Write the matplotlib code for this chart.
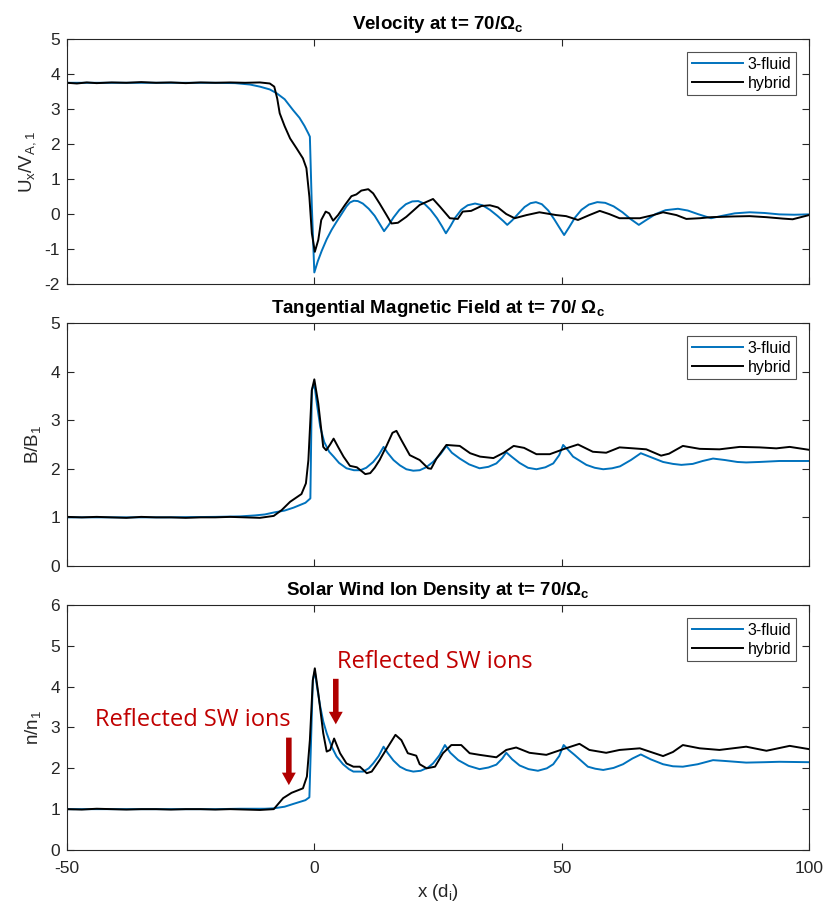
import matplotlib
matplotlib.use("Agg")
import matplotlib.pyplot as plt

plt.rcParams['font.family'] = ['Liberation Sans', 'DejaVu Sans']
plt.rcParams['mathtext.fontset'] = 'custom'
plt.rcParams['mathtext.rm'] = 'Liberation Sans'
plt.rcParams['mathtext.it'] = 'Liberation Sans'
plt.rcParams['mathtext.bf'] = 'Liberation Sans:bold'
plt.rcParams['axes.unicode_minus'] = False

# ---- Velocity U_x / V_A,1 ----
vel_fluid_x = [-50, -40, -30, -20, -16, -13, -11, -9, -7.6, -6, -4.3, -3, -2.0, -1.2, -0.9, -0.5, 0.0,
               0.7, 1.5, 2.5, 3.5, 4.5, 5.5, 6.5, 7.2, 8.0, 8.8, 9.8, 11, 12.2, 13.2, 14.1,
               15, 16, 17.2, 18.5, 19.8, 21, 22.2, 23.5, 24.8, 25.8, 26.6, 27.5, 28.5, 29.7,
               31, 32.5, 34, 35.5, 37, 38.2, 39.0, 40, 41.3, 42.5, 43.7, 44.8, 46, 47.3, 48.5,
               49.6, 50.5, 51.5, 52.7, 54, 55.5, 57.2, 58.8, 60.5, 62.3, 64, 65.6, 67, 69, 71,
               73.5, 75.5, 77.5, 80.2, 82.5, 85, 88, 91, 94, 97, 100]
vel_fluid_y = [3.75, 3.75, 3.75, 3.75, 3.74, 3.70, 3.64, 3.56, 3.45, 3.28, 2.97, 2.75, 2.52, 2.30, 2.21, 0.2, -1.67,
               -1.35, -1.05, -0.72, -0.45, -0.22, 0.0, 0.22, 0.33, 0.38, 0.37, 0.30, 0.15, -0.05, -0.28, -0.49,
               -0.32, -0.10, 0.12, 0.28, 0.36, 0.37, 0.30, 0.12, -0.12, -0.35, -0.55, -0.35, -0.10, 0.12,
               0.25, 0.30, 0.25, 0.12, -0.05, -0.20, -0.31, -0.18, 0.02, 0.20, 0.31, 0.34, 0.28, 0.10, -0.15,
               -0.40, -0.60, -0.38, -0.10, 0.12, 0.27, 0.34, 0.32, 0.22, 0.05, -0.15, -0.31, -0.18, 0.0, 0.11,
               0.15, 0.10, 0.0, -0.12, -0.05, 0.02, 0.05, 0.03, -0.01, -0.02, -0.01]

vel_hyb_x = [-50, -48, -46, -44, -41, -38, -35, -32, -29, -26, -23, -20, -17, -14, -11, -9.0,
             -8.1, -7.5, -7.0, -6.0, -4.9, -3.6, -2.3, -1.6, -1.0, -0.5, 0.1, 0.8, 1.4, 2.3, 3.0,
             3.8, 4.8, 6.2, 7.5, 8.5, 9.5, 10.9, 11.9, 13.2, 14.6, 15.6, 16.9, 18.6, 21.3, 24.0,
             25.4, 27.4, 29.0, 30.0, 31.7, 33.8, 35.5, 37.1, 38.8, 40.5, 42.9, 45.5, 48.9, 50.9,
             53.3, 55.6, 57.7, 59.6, 61.7, 65.8, 68.5, 70.5, 73.2, 75.2, 77.9, 80.2, 84.5, 88,
             91.4, 94.7, 96.7, 100]
vel_hyb_y = [3.75, 3.73, 3.76, 3.74, 3.76, 3.75, 3.77, 3.75, 3.76, 3.74, 3.76, 3.75, 3.76, 3.75, 3.76, 3.73,
             3.64, 3.30, 2.88, 2.51, 2.16, 1.88, 1.59, 1.31, 0.49, -0.55, -1.08, -0.74, -0.17, 0.07, 0.02,
             -0.19, -0.03, 0.26, 0.51, 0.56, 0.67, 0.71, 0.59, 0.30, -0.03, -0.27, -0.25, -0.08, 0.26, 0.43,
             0.21, -0.12, -0.14, 0.07, 0.09, 0.23, 0.25, 0.19, 0.0, -0.12, -0.03, 0.05, -0.03, -0.06,
             -0.17, -0.03, 0.09, 0.0, -0.12, -0.12, -0.03, 0.05, -0.03, -0.14, -0.12, -0.09, -0.07, -0.06,
             -0.09, -0.13, -0.15, -0.03]

# ---- Tangential magnetic field B / B_1 ----
b_fluid_x = [-50, -40, -30, -20, -15, -12, -10, -8.2, -6, -4.2, -1.8, -0.8, -0.5, 0.0, 0.5, 1.2, 2.0,
             3.0, 3.9, 5.0, 6.5, 8.0, 9.3, 10.5, 11.9, 13.0, 14.0, 14.8, 16.0, 17.3, 18.6, 20.0,
             21.3, 22.6, 24.0, 25.5, 26.7, 27.8, 29.4, 31.3, 33.4, 35.2, 36.8, 38.0, 38.8, 40.0,
             41.5, 43.2, 44.9, 46.7, 48.3, 49.5, 50.3, 51.3, 52.3, 55.0, 56.7, 58.4, 60.2, 61.8,
             64.0, 66.0, 68.0, 70.5, 72.5, 74.2, 76.5, 78.5, 80.6, 83.0, 85.5, 87.3, 90, 94, 100]
b_fluid_y = [1.00, 1.00, 1.00, 1.01, 1.02, 1.04, 1.06, 1.10, 1.14, 1.20, 1.30, 1.39, 3.62, 3.75, 3.35, 2.86, 2.55,
             2.35, 2.25, 2.12, 2.01, 1.97, 1.97, 2.02, 2.14, 2.28, 2.45, 2.33, 2.18, 2.07, 1.99, 1.96,
             1.97, 2.03, 2.14, 2.30, 2.47, 2.33, 2.21, 2.09, 2.01, 2.04, 2.11, 2.23, 2.34, 2.24,
             2.12, 2.02, 1.99, 2.03, 2.11, 2.28, 2.49, 2.38, 2.25, 2.08, 2.02, 1.99, 2.01, 2.05,
             2.18, 2.32, 2.24, 2.14, 2.10, 2.08, 2.10, 2.16, 2.21, 2.18, 2.14, 2.13, 2.14, 2.16, 2.16]

b_hyb_x = [-50, -47, -44, -41, -38, -35, -32, -29, -26, -23, -20, -17, -14, -11, -8.2, -6.6, -4.9,
           -2.6, -1.7, -1.2, -0.5, 0.0, 0.8, 1.8, 2.4, 3.2, 3.9, 4.8, 5.9, 7.2, 8.6, 10.3, 11.3, 12.2,
           13.2, 14.5, 15.8, 16.6, 17.6, 19.3, 21.3, 23.0, 23.6, 24.7, 26.7, 28.0, 29.4, 31.5,
           33.5, 36.2, 38.3, 40.3, 42.4, 44.9, 47.6, 50.3, 53.3, 56.3, 59.0, 61.7, 64.5, 67.1,
           70.1, 71.7, 74.5, 77.9, 81.9, 86.0, 90.0, 93.4, 96.1, 100]
b_hyb_y = [1.01, 1.00, 1.01, 1.00, 0.99, 1.01, 1.00, 1.00, 0.99, 1.00, 1.00, 1.01, 1.00, 0.99, 1.03, 1.15, 1.32,
           1.48, 1.70, 2.18, 3.62, 3.84, 3.34, 2.45, 2.38, 2.50, 2.62, 2.45, 2.25, 2.06, 2.03, 1.89, 1.91, 2.02,
           2.18, 2.45, 2.74, 2.78, 2.59, 2.28, 2.18, 2.01, 2.00, 2.21, 2.49, 2.48, 2.47, 2.32,
           2.25, 2.22, 2.33, 2.47, 2.43, 2.30, 2.30, 2.40, 2.50, 2.35, 2.33, 2.44, 2.42, 2.40,
           2.27, 2.31, 2.47, 2.41, 2.40, 2.45, 2.44, 2.42, 2.45, 2.39]

# ---- Solar wind ion density n / n_1 ----
n_fluid_x = [-50, -40, -30, -20, -15, -12, -10, -8.2, -6, -4.2, -1.8, -1.0, -0.3, 0.1, 0.6, 1.2, 1.8,
             2.5, 3.5, 4.5, 5.8, 7.0, 7.9, 9.9, 11.0, 11.9, 13.0, 14.0, 14.8, 16.0, 17.3, 18.6,
             20.0, 21.5, 23.0, 24.0, 25.3, 26.4, 27.5, 29.1, 31.2, 33.4, 35.2, 36.8, 38.0, 38.8,
             40.0, 41.5, 43.3, 45.2, 47.0, 48.3, 49.5, 50.4, 51.4, 52.6, 55.3, 56.8, 58.4, 60.5,
             62.4, 64.3, 66.0, 68.0, 70.5, 72.5, 74.5, 77.5, 80.6, 83.0, 87.3, 91, 94, 100]
n_fluid_y = [1.00, 1.00, 1.00, 1.00, 1.01, 1.01, 1.01, 1.02, 1.06, 1.13, 1.22, 1.29, 4.16, 4.37, 3.95, 3.51, 3.15,
             2.86, 2.53, 2.29, 2.10, 1.98, 1.92, 1.92, 2.00, 2.12, 2.30, 2.53, 2.38, 2.19, 2.04, 1.96,
             1.92, 1.94, 2.02, 2.12, 2.32, 2.57, 2.38, 2.20, 2.06, 1.98, 2.02, 2.09, 2.24, 2.38,
             2.22, 2.07, 1.98, 1.94, 2.00, 2.10, 2.30, 2.57, 2.45, 2.33, 2.04, 1.99, 1.96, 2.01,
             2.10, 2.24, 2.34, 2.22, 2.10, 2.05, 2.04, 2.10, 2.20, 2.18, 2.14, 2.15, 2.16, 2.15]

n_hyb_x = [-50, -47, -44, -41, -38, -35, -32, -29, -26, -23, -20, -17, -14, -11, -8.2, -6.3, -4.6,
           -2.3, -1.5, -0.9, -0.3, 0.1, 0.8, 1.8, 2.5, 3.2, 4.0, 5.2, 6.5, 7.9, 9.2, 10.6, 11.6,
           13.2, 14.9, 16.4, 17.6, 18.9, 20.6, 21.3, 22.7, 24.4, 26.0, 27.7, 29.7, 31.4, 33.4,
           36.8, 38.8, 40.8, 43.5, 46.9, 50.3, 53.6, 55.6, 59.0, 61.7, 65.8, 70.5, 72.5, 74.5,
           77.9, 81.9, 87.3, 91.4, 96.1, 100]
n_hyb_y = [1.00, 0.99, 1.01, 1.00, 0.99, 1.00, 1.00, 0.99, 1.00, 1.00, 0.99, 1.00, 0.99, 0.98, 1.00, 1.27, 1.40,
           1.51, 1.80, 2.69, 4.16, 4.45, 3.84, 2.86, 2.41, 2.45, 2.73, 2.37, 2.12, 2.04, 2.04, 1.88, 1.92,
           2.20, 2.53, 2.82, 2.69, 2.37, 2.31, 2.10, 2.00, 2.04, 2.37, 2.57, 2.57, 2.37, 2.33,
           2.27, 2.45, 2.51, 2.38, 2.33, 2.47, 2.60, 2.45, 2.38, 2.45, 2.49, 2.30, 2.40, 2.57,
           2.49, 2.45, 2.53, 2.43, 2.55, 2.47]

x_ticks = [-50, 0, 50, 100]
series_labels = ['3-fluid', 'hybrid']
fluid_color = '#0072BD'
hybrid_color = '#000000'
text_color = '#262626'
annot_color = '#C00000'

fig = plt.figure(figsize=(8.25, 9.08), dpi=100)
left, width = 0.0812, 0.8994
ax1 = fig.add_axes([left, 0.6872, width, 0.2698])
ax2 = fig.add_axes([left, 0.3767, width, 0.2676])
ax3 = fig.add_axes([left, 0.0639, width, 0.2698])

panels = [
    (ax1, vel_fluid_x, vel_fluid_y, vel_hyb_x, vel_hyb_y, (-2, 5),
     r'Velocity at t= 70/$\mathbf{\Omega_c}$', r'U$_\mathregular{x}$/V$_\mathregular{A,1}$'),
    (ax2, b_fluid_x, b_fluid_y, b_hyb_x, b_hyb_y, (0, 5),
     r'Tangential Magnetic Field at t= 70/ $\mathbf{\Omega_c}$', r'B/B$_\mathregular{1}$'),
    (ax3, n_fluid_x, n_fluid_y, n_hyb_x, n_hyb_y, (0, 6),
     r'Solar Wind Ion Density at t= 70/$\mathbf{\Omega_c}$', r'n/n$_\mathregular{1}$'),
]

for ax, fx, fy, hx, hy, ylim, title, ylabel in panels:
    ax.plot(fx, fy, color=fluid_color, lw=1.4, label=series_labels[0])
    ax.plot(hx, hy, color=hybrid_color, lw=1.4, label=series_labels[1])
    ax.set_xlim(-50, 100)
    ax.set_ylim(*ylim)
    ax.set_xticks(x_ticks)
    ax.set_yticks(range(ylim[0], ylim[1] + 1))
    ax.tick_params(direction='in', top=True, right=True, length=5, width=0.8,
                   labelsize=12.5, colors=text_color, pad=5)
    ax.tick_params(axis='x', pad=8)
    for sp in ax.spines.values():
        sp.set_color(text_color)
        sp.set_linewidth(0.8)
    ax.set_title(title, fontsize=13.5, fontweight='bold', pad=7)
    ax.set_ylabel(ylabel, fontsize=13.5, color=text_color, labelpad=5)
    leg = ax.legend(loc='upper right', fontsize=11.5, frameon=True, fancybox=False,
                    handlelength=3.2, borderpad=0.3, labelspacing=0.25,
                    handletextpad=0.3, borderaxespad=0.8)
    leg.get_frame().set_edgecolor(text_color)
    leg.get_frame().set_linewidth(0.8)

for ax in (ax1, ax2):
    ax.tick_params(labelbottom=False)

ax3.set_xlabel(r'x (d$_\mathregular{i}$)', fontsize=13.5, color=text_color, labelpad=4)

# Annotations marking the reflected solar-wind ions
ann_font = dict(color=annot_color, fontsize=17, family=['Open Sans', 'DejaVu Sans'])
ax3.text(-44.3, 3.18, 'Reflected SW ions', va='center', ha='left', **ann_font)
ax3.text(4.5, 4.6, 'Reflected SW ions', va='center', ha='left', **ann_font)
arrow_kw = dict(arrowstyle='simple,head_width=1.0,head_length=0.9,tail_width=0.4',
                color='#B00000', lw=0)
ax3.annotate('', xy=(-5.15, 1.52), xytext=(-5.15, 2.82), arrowprops=arrow_kw)
ax3.annotate('', xy=(4.34, 3.01), xytext=(4.34, 4.26), arrowprops=arrow_kw)

fig.savefig('out.png', dpi=100)
